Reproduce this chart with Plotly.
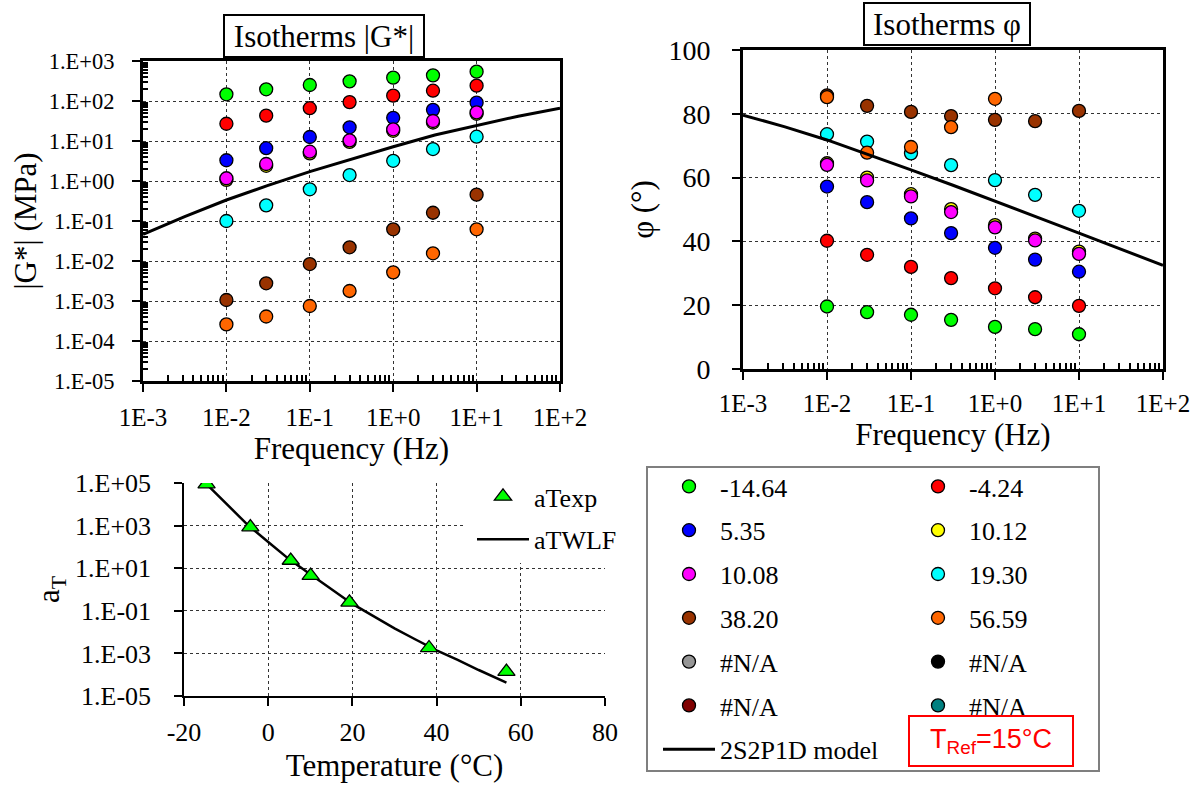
import plotly.graph_objects as go

W, H = 1202, 787

# ---------------- data ----------------
freq = [0.01, 0.03, 0.1, 0.3, 1, 3, 10]

series_names = ["-14.64", "-4.24", "5.35", "10.12", "10.08", "19.30", "38.20", "56.59"]
series_colors = ["#00FF00", "#FF0000", "#0000FF", "#FFFF00", "#FF00FF", "#00FFFF", "#993300", "#FF6600"]

g_m14 = [147, 196, 251, 310, 383, 438, 541]
g_m4 = [27, 43, 66, 94, 136, 181, 242]
g_5 = [3.3, 6.6, 12.6, 22, 38, 60, 91]
g_10b = [1.07, 2.4, 4.9, 9.5, 18, 29, 48]
g_10a = [1.17, 2.66, 5.4, 10.4, 19.6, 31.6, 52]
g_19 = [0.10, 0.246, 0.62, 1.41, 3.2, 6.3, 12.8]
g_38 = [0.00106, 0.00277, 0.0084, 0.022, 0.062, 0.161, 0.455]
g_56 = [0.00026, 0.00041, 0.00075, 0.00178, 0.0052, 0.0156, 0.062]

p_m14 = [19.6, 17.8, 17.0, 15.4, 13.2, 12.5, 10.9]
p_m4 = [40.2, 35.8, 32.0, 28.5, 25.3, 22.5, 19.8]
p_5 = [57.2, 52.3, 47.2, 42.6, 38.0, 34.3, 30.5]
p_10b = [64.5, 60.0, 54.8, 50.1, 45.1, 40.9, 36.8]
p_10a = [64.0, 59.1, 54.1, 49.2, 44.4, 40.3, 36.1]
p_19 = [73.6, 71.3, 67.6, 63.9, 59.2, 54.6, 49.6]
p_38 = [85.8, 82.5, 80.6, 79.3, 78.1, 77.7, 80.9]
p_56 = [85.2, 67.8, 69.6, 75.8, 84.7, None, None]

g_series = [g_m14, g_m4, g_5, g_10b, g_10a, g_19, g_38, g_56]
p_series = [p_m14, p_m4, p_5, p_10b, p_10a, p_19, p_38, p_56]

na_colors = ["#969696", "#000000", "#800000", "#008080"]

# 2S2P1D model curves
model_freq = [0.001, 0.00316, 0.01, 0.0316, 0.1, 0.316, 1, 3.16, 10, 31.6, 100]
model_g = [0.0465, 0.129, 0.335, 0.776, 1.71, 3.55, 7.2, 14.1, 24.5, 41.7, 65.6]
model_phi = [79.6, 75.9, 71.8, 67.2, 62.4, 57.6, 52.7, 47.6, 42.6, 37.5, 32.5]

# shift factors
temps_exp = [-14.64, -4.24, 5.35, 10.08, 19.30, 38.20, 56.59]
aT_exp = [89000, 850, 23, 4.5, 0.25, 0.0018, 0.00014]
temps_wlf = [-14.64, -10, -5, 0, 5, 10, 15, 20, 25, 30, 35, 40, 45, 50, 56.59]
aT_wlf = [89000, 10500, 1150, 170, 26, 5.2, 1.0, 0.21, 0.056, 0.015, 0.0045, 0.0014, 0.0005, 0.000166, 0.0000427]

# tick labels
freq_ticks = [1e-3, 1e-2, 1e-1, 1e0, 1e1, 1e2]
freq_ticktext = ["1E-3", "1E-2", "1E-1", "1E+0", "1E+1", "1E+2"]
g_ticks = [10.0 ** k for k in range(-5, 4)]
g_ticktext = ["1.E-05", "1.E-04", "1.E-03", "1.E-02", "1.E-01", "1.E+00", "1.E+01", "1.E+02", "1.E+03"]
phi_ticks = [0, 20, 40, 60, 80, 100]
at_ticks = [10.0 ** k for k in range(-5, 6, 2)]
at_ticktext = ["1.E-05", "1.E-03", "1.E-01", "1.E+01", "1.E+03", "1.E+05"]
temp_ticks = [-20, 0, 20, 40, 60, 80]
temp_ticktext = ["-20", "0", "20", "40", "60", "80"]

# ---------------- helpers ----------------
SERIF = "Liberation Serif"


def xd(a, b):
    return [a / W, b / W]


def yd(top, bottom):
    return [1 - bottom / H, 1 - top / H]


def px(x):
    return x / W


def py(y):
    return 1 - y / H


def sf(size, color="black"):
    return dict(family=SERIF, size=size, color=color)


minor_log_x = [m * 10.0 ** k for k in range(-3, 2) for m in range(2, 10)]
minor_log_y = [m * 10.0 ** k for k in range(-5, 3) for m in range(2, 10)]

fig = go.Figure()

# scatter series (|G*| and phase)
for i, (name, col) in enumerate(zip(series_names, series_colors)):
    leg = "legend" if i % 2 == 0 else "legend2"
    fig.add_trace(go.Scatter(
        x=freq, y=g_series[i], mode="markers", name=name, legendgroup=name,
        legend=leg, showlegend=True, xaxis="x", yaxis="y",
        marker=dict(size=13, color=col, line=dict(color="black", width=1.3)),
    ))
    fig.add_trace(go.Scatter(
        x=freq, y=p_series[i], mode="markers", name=name, legendgroup=name,
        legend=leg, showlegend=False, xaxis="x2", yaxis="y2",
        marker=dict(size=13, color=col, line=dict(color="black", width=1.3)),
    ))

# #N/A series (no data)
for j, col in enumerate(na_colors):
    leg = "legend" if j % 2 == 0 else "legend2"
    fig.add_trace(go.Scatter(
        x=[None], y=[None], mode="markers", name="#N/A", legendgroup="na%d" % j,
        legend=leg, xaxis="x", yaxis="y",
        marker=dict(size=13, color=col, line=dict(color="black", width=1.3)),
    ))

# model lines
fig.add_trace(go.Scatter(
    x=model_freq, y=model_g, mode="lines", name="2S2P1D model", legendgroup="model",
    legend="legend", xaxis="x", yaxis="y", line=dict(color="black", width=3),
))
fig.add_trace(go.Scatter(
    x=model_freq, y=model_phi, mode="lines", name="2S2P1D model", legendgroup="model",
    legend="legend", showlegend=False, xaxis="x2", yaxis="y2", line=dict(color="black", width=3),
))

# shift factor plot (line first so triangles sit on top)
fig.add_trace(go.Scatter(
    x=temps_wlf, y=aT_wlf, mode="lines", name="aTWLF", legend="legend3", legendgroup="aTWLF",
    legendrank=2, xaxis="x3", yaxis="y3", line=dict(color="black", width=2.5),
))
fig.add_trace(go.Scatter(
    x=temps_exp, y=aT_exp, mode="markers", name="aTexp", legend="legend3", legendgroup="aTexp",
    legendrank=1, xaxis="x3", yaxis="y3",
    marker=dict(symbol="triangle-up", size=15, color="#00FF00", line=dict(color="black", width=1.3)),
))

axis_common = dict(
    showline=True, linecolor="black", showgrid=True, gridcolor="#333333",
    griddash="dot", gridwidth=1, zeroline=False, ticks="outside", tickcolor="black",
    tickwidth=1.5, ticklen=8, automargin=False,
)

legend_common = dict(xanchor="left", yanchor="top", bgcolor="rgba(0,0,0,0)", borderwidth=0,
                     font=sf(26), traceorder="grouped", itemwidth=52)

fig.update_layout(
    width=W, height=H, margin=dict(l=0, r=0, t=0, b=0, autoexpand=False),
    paper_bgcolor="white", plot_bgcolor="white",
    font=sf(24),
    xaxis=dict(**axis_common, type="log", range=[-3, 2], domain=xd(143, 560), anchor="y",
               linewidth=3, mirror=True, tickvals=freq_ticks, ticktext=freq_ticktext,
               tickfont=sf(25), ticklabelstandoff=4,
               minor=dict(ticks="inside", ticklen=6, tickcolor="black", tickmode="array",
                          tickvals=minor_log_x, showgrid=False),
               title=dict(text="Frequency (Hz)", font=sf(31), standoff=0)),
    yaxis=dict(**axis_common, type="log", range=[-5, 3], domain=yd(61, 381), anchor="x",
               linewidth=3, mirror=True, tickvals=g_ticks, ticktext=g_ticktext,
               tickfont=sf(22.5), ticklabelstandoff=13,
               minor=dict(ticks="inside", ticklen=5, tickcolor="black", tickmode="array",
                          tickvals=minor_log_y, showgrid=False),
               title=dict(text="|G*| (MPa)", font=sf(31), standoff=3)),
    xaxis2=dict(**axis_common, type="log", range=[-3, 2], domain=xd(743, 1163), anchor="y2",
                linewidth=3, mirror=True, tickvals=freq_ticks, ticktext=freq_ticktext,
                tickfont=sf(25), ticklabelstandoff=2,
                minor=dict(ticks="inside", ticklen=6, tickcolor="black", tickmode="array",
                           tickvals=minor_log_x, showgrid=False),
                title=dict(text="Frequency (Hz)", font=sf(31), standoff=0)),
    yaxis2=dict(**axis_common, range=[0, 100], domain=yd(50, 369), anchor="x2",
                linewidth=3, mirror=True, tickvals=phi_ticks,
                tickfont=sf(28), ticklabelstandoff=16,
                title=dict(text="φ (°)", font=sf(31), standoff=6)),
    xaxis3=dict(**axis_common, range=[-20, 80], domain=xd(184, 605), anchor="y3",
                linewidth=1.5, tickvals=temp_ticks, ticktext=temp_ticktext,
                tickfont=sf(26), ticklabelstandoff=4,
                title=dict(text="Temperature (°C)", font=sf(31), standoff=8)),
    yaxis3=dict(**axis_common, type="log", range=[-5, 5], domain=yd(483, 696), anchor="x3",
                linewidth=1.5, tickvals=at_ticks, ticktext=at_ticktext, tickfont=sf(26),
                ticklabelstandoff=18,
                title=dict(text="a<sub>T</sub>", font=sf(31), standoff=6)),
    legend=dict(**legend_common, x=px(658), y=py(463), tracegroupgap=7),
    legend2=dict(**legend_common, x=px(907), y=py(463), tracegroupgap=7),
    legend3=dict(**legend_common, x=px(472), y=py(473), tracegroupgap=6),
    showlegend=True,
)

# legend frame and white area behind the aT legend
fig.add_shape(type="rect", xref="paper", yref="paper",
              x0=px(647), x1=px(1099), y0=py(771), y1=py(467),
              line=dict(color="#7f7f7f", width=2), fillcolor="rgba(0,0,0,0)", layer="above")
fig.add_shape(type="rect", xref="paper", yref="paper",
              x0=px(466), x1=px(640), y0=py(563), y1=py(470),
              line=dict(width=0), fillcolor="white", layer="above")

# chart titles in boxes
fig.add_annotation(text="Isotherms |G*|", xref="paper", yref="paper",
                   x=px(323.5), y=py(35.5), xanchor="center", yanchor="middle", showarrow=False,
                   font=sf(31), bordercolor="black", borderwidth=2,
                   bgcolor="white", width=198, height=40, borderpad=0)
fig.add_annotation(text="Isotherms φ", xref="paper", yref="paper",
                   x=px(946.5), y=py(24.5), xanchor="center", yanchor="middle", showarrow=False,
                   font=sf(31), bordercolor="black", borderwidth=2,
                   bgcolor="white", width=164, height=40, borderpad=0)
# reference temperature box
fig.add_annotation(text="T<sub>Ref</sub>=15°C", xref="paper", yref="paper",
                   x=px(990.5), y=py(740.5), xanchor="center", yanchor="middle", showarrow=False,
                   font=dict(size=27, family="Liberation Sans", color="#FF0000"),
                   bordercolor="#FF0000", borderwidth=2, bgcolor="white",
                   width=162, height=48, borderpad=0)

fig.write_html("out.html", config={"displayModeBar": False},
               post_script="document.body.style.margin='0';")
